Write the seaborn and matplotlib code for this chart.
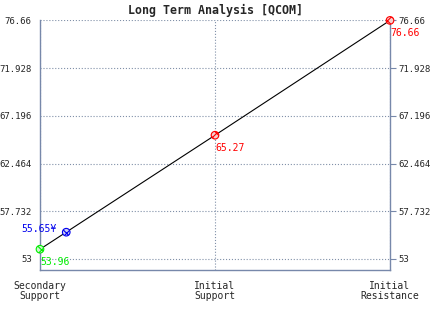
import matplotlib
matplotlib.use('Agg')
import matplotlib.pyplot as plt
import seaborn as sns
import pandas as pd

# data
levels = ['Secondary\nSupport', 'Initial\nSupport', 'Initial\nResistance']
level_values = [53.96, 65.27, 76.66]
level_colors = ['#00ee00', '#ff0000', '#ff0000']
current_price = 55.65
current_pos = 0.15
y_ticks = [53, 57.732, 62.464, 67.196, 71.928, 76.66]
title = 'Long Term Analysis [QCOM]'

df = pd.DataFrame({'pos': range(len(levels)), 'value': level_values})

sns.set_style('white')
plt.rcParams['font.family'] = ['DejaVu Sans Mono', 'DejaVu Sans']
plt.rcParams['hatch.linewidth'] = 0.8
axis_col = '#7788aa'

fig = plt.figure(figsize=(4.3, 3.1), dpi=100)
ax = fig.add_axes([40 / 430, 1 - 270 / 310, 350 / 430, 250 / 310])

sns.lineplot(data=df, x='pos', y='value', color='black', linewidth=0.8, ax=ax)
for i, (v, c) in enumerate(zip(level_values, level_colors)):
    ax.scatter(i, v, s=30, facecolor='#f4d0d0' if c == '#ff0000' else '#d0f4d0',
               edgecolor=c, hatch='xxxx', linewidth=0.8, zorder=5, clip_on=False)
    ax.annotate(f'{v:.2f}', (i, v), xytext=(0, -9), textcoords='offset points',
                color=c, fontsize=7, ha='left', va='center')
ax.scatter(current_pos, current_price, s=30, facecolor='#d0d0f4', edgecolor='#0000ee',
           hatch='xxxx', linewidth=0.8, zorder=5)
ax.annotate(f'{current_price:.2f}¥', (current_pos, current_price), xytext=(-7, 2),
            textcoords='offset points', color='#0000ee', fontsize=7,
            ha='right', va='center')

ax.set_xlim(0, 2)
ax.set_ylim(51.9, 76.7)
ax.set_xticks(range(len(levels)))
ax.set_xticklabels(levels, fontsize=7, linespacing=0.95)
ax.set_yticks(y_ticks)
ax.set_yticklabels([f'{t:g}' for t in y_ticks], fontsize=6.5)
ax.tick_params(axis='x', length=0, pad=8)
ax.tick_params(axis='y', length=4, color=axis_col, labelright=True, right=True,
               left=False, pad=2)
ax.set_xlabel('')
ax.set_ylabel('')
ax.grid(True, color='#8090a8', linestyle=':', linewidth=0.8)
for side in ['left', 'right', 'bottom']:
    ax.spines[side].set_color(axis_col)
    ax.spines[side].set_linewidth(1)
ax.spines['top'].set_visible(False)
ax.set_title(title, fontsize=8.4, fontweight='bold', pad=4)

fig.savefig('out.png', dpi=100)
